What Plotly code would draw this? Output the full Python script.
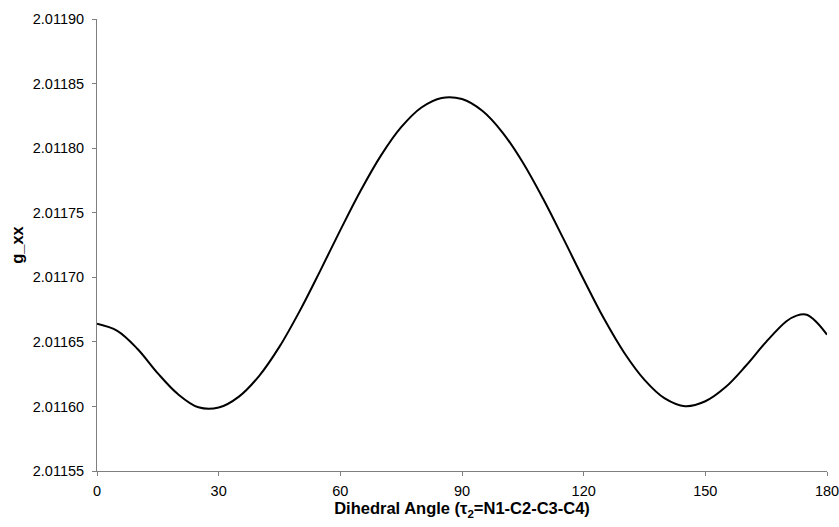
import plotly.graph_objects as go

angles = [0, 5, 10, 15, 20, 25, 30, 35, 40, 45, 50, 55, 60, 65, 70, 75, 80, 85,
          90, 95, 100, 105, 110, 115, 120, 125, 130, 135, 140, 145, 150, 155,
          160, 165, 170, 172.5, 175, 177.5, 180]
g_xx = [2.0116640, 2.0116585, 2.0116445, 2.0116256, 2.0116094, 2.0115993, 2.0115991,
        2.0116076, 2.0116237, 2.0116463, 2.0116740, 2.0117048, 2.0117365, 2.0117670,
        2.0117942, 2.0118162, 2.0118315, 2.0118389, 2.0118380, 2.0118289, 2.0118121,
        2.0117889, 2.0117608, 2.0117299, 2.0116983, 2.0116680, 2.0116416, 2.0116206,
        2.0116062, 2.0116002, 2.0116040, 2.0116150, 2.0116315, 2.0116500, 2.0116659,
        2.0116703, 2.0116710, 2.0116650, 2.0116555]

x_ticks = [0, 30, 60, 90, 120, 150, 180]
y_ticks = [2.01155, 2.01160, 2.01165, 2.01170, 2.01175, 2.01180, 2.01185, 2.01190]

FONT = "Liberation Sans, Arial, sans-serif"

fig = go.Figure()
fig.add_trace(go.Scatter(x=angles, y=g_xx, mode="lines",
                         line=dict(color="black", width=2, shape="spline", smoothing=1.0),
                         showlegend=False, hoverinfo="skip"))

axis_common = dict(showgrid=False, zeroline=False, showline=True, linecolor="#7f7f7f",
                   linewidth=1, ticks="outside", ticklen=4, tickcolor="#7f7f7f",
                   tickwidth=1, tickfont=dict(family=FONT, size=14.5, color="black"),
                   ticklabeloverflow="allow")

fig.update_xaxes(range=[0, 180], tickvals=x_ticks, ticktext=[str(v) for v in x_ticks],
                 title=dict(text="<b>Dihedral Angle (τ<sub>2</sub>=N1-C2-C3-C4)</b>",
                            font=dict(family=FONT, size=16.5, color="black"), standoff=4),
                 ticklabelstandoff=3, **axis_common)
fig.update_yaxes(range=[2.01155, 2.01190], tickvals=y_ticks,
                 ticktext=[f"{v:.5f}" for v in y_ticks],
                 title=dict(text="<b>g_xx</b>",
                            font=dict(family=FONT, size=16.5, color="black"), standoff=4),
                 ticklabelstandoff=5, **axis_common)

fig.update_layout(width=839, height=527, plot_bgcolor="white", paper_bgcolor="white",
                  margin=dict(l=97, r=12, t=19, b=56, autoexpand=False),
                  font=dict(family=FONT, color="black"), hovermode=False)

fig.write_html("out.html", config={"displayModeBar": False},
               post_script="document.body.style.margin='0';document.body.style.overflow='hidden';")
